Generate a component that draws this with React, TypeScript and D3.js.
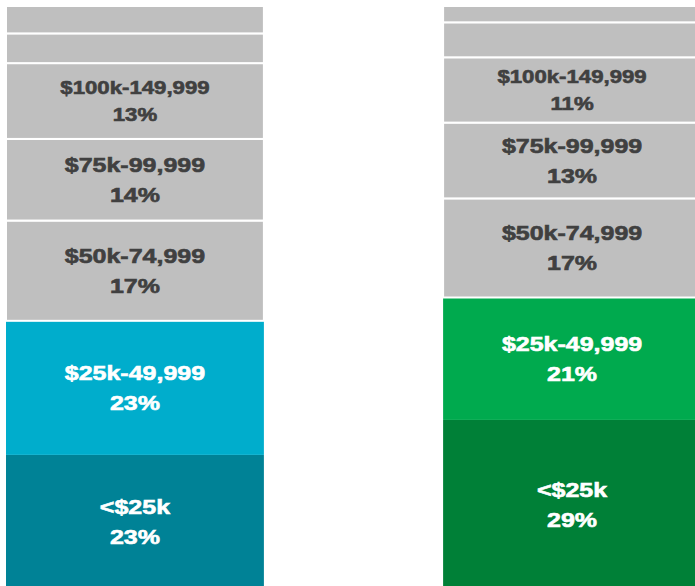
import React from "react";
import * as d3 from "d3";

const categories = [
  "<$25k",
  "$25k-49,999",
  "$50k-74,999",
  "$75k-99,999",
  "$100k-149,999",
  "$150k-199,999",
  "$200k+",
];
const showLabel = [true, true, true, true, true, false, false];
const columns = ["A", "B"];
const leftValues = [23, 23, 17.2, 14, 13, 5.1, 4.7];
const rightValues = [29, 21, 17, 13, 11.2, 6, 2.8];

const W = 695;
const H = 586;
const GRAY = "#BFBFBF";
const colColors: Record<string, string[]> = {
  A: ["#008296", "#00ADCC"],
  B: ["#008037", "#00AA4E"],
};

export default function App() {
  const rows = columns.map((c, i) => {
    const vals = i === 0 ? leftValues : rightValues;
    const r: any = { col: c };
    categories.forEach((k, j) => (r[k] = vals[j]));
    return r;
  });
  const series = d3.stack().keys(categories)(rows);
  const x = d3.scaleBand().domain(columns).range([6, 701]).paddingInner(0.41).paddingOuter(0);
  const y = d3.scaleLinear().domain([0, 100]).range([589, 6]);
  const bw = x.bandwidth();

  const marks: React.ReactNode[] = [];
  const labels: React.ReactNode[] = [];
  series.forEach((s, j) => {
    s.forEach((d: any, i) => {
      const col = columns[i];
      const x0 = x(col)!;
      const y0 = y(d[1]);
      const y1 = y(d[0]);
      const colored = j < 2;
      const fill = colored ? colColors[col][j] : GRAY;
      marks.push(
        <rect
          key={`r${j}-${i}`}
          x={x0}
          y={y0}
          width={bw}
          height={y1 - y0}
          fill={fill}
          stroke={colored ? "none" : "#FFFFFF"}
          strokeWidth={colored ? 0 : 2}
        />
      );
      if (showLabel[j]) {
        const cx = x0 + bw / 2;
        const cy = (y0 + y1) / 2;
        const small = j === 4;
        const fs = small ? 18.5 : 20;
        const off = small ? 13.5 : 15;
        const base = fs * 0.36;
        const color = colored ? "#FFFFFF" : "#404040";
        const sx = small ? 1.2 : 1.25;
        const pct = Math.round(d[1] - d[0]) + "%";
        [categories[j], pct].forEach((t, k) => {
          labels.push(
            <text
              key={`t${j}-${i}-${k}`}
              transform={`translate(${cx},${cy + (k === 0 ? -off : off) + base}) scale(${sx},1)`}
              textAnchor="middle"
              fontFamily="'Liberation Sans', Arial, sans-serif"
              fontWeight="bold"
              fontSize={fs}
              fill={color}
              stroke={color}
              strokeWidth={0.6}
            >
              {t}
            </text>
          );
        });
      }
    });
  });

  return (
    <div style={{ position: "absolute", left: 0, top: 0 }}>
      <svg width={W} height={H} style={{ display: "block", background: "#FFFFFF" }}>
        {marks}
        {labels}
      </svg>
    </div>
  );
}
